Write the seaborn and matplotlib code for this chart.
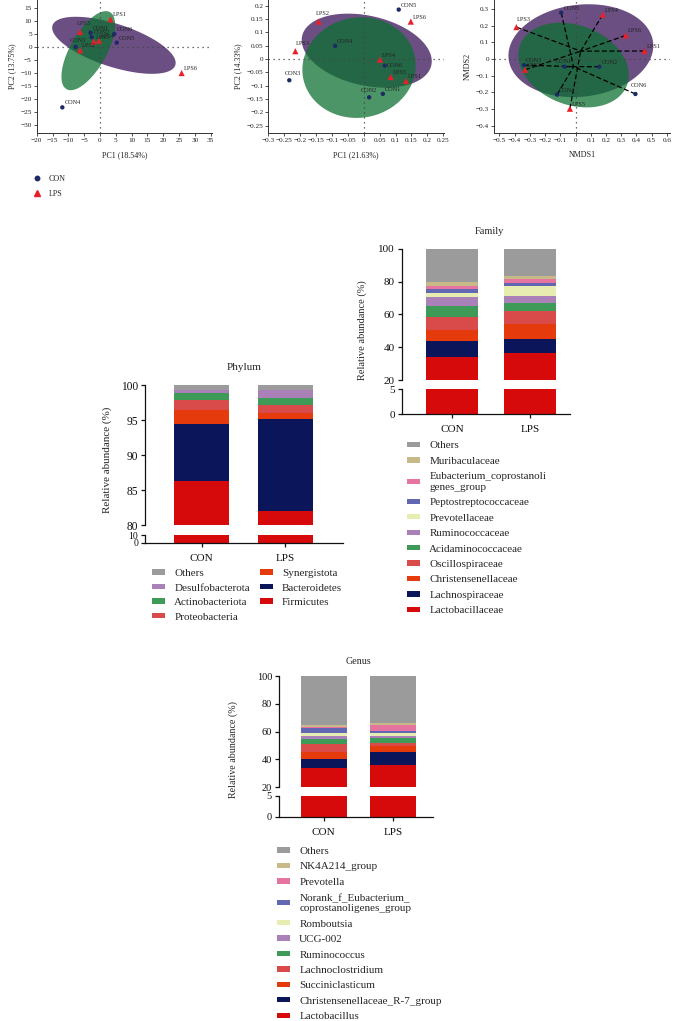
import numpy as np
import pandas as pd
import matplotlib
matplotlib.use("Agg")
import matplotlib.pyplot as plt
import seaborn as sns
from matplotlib.patches import Patch
from matplotlib.lines import Line2D

sns.set_theme(style="ticks")
plt.rcParams['font.family'] = ['Liberation Serif', 'DejaVu Serif']
plt.rcParams['axes.unicode_minus'] = True

# ------------------------------------------------------------------ data
samples = ["CON1", "CON2", "CON3", "CON4", "CON5", "CON6",
           "LPS1", "LPS2", "LPS3", "LPS4", "LPS5", "LPS6"]
groups = ["CON"] * 6 + ["LPS"] * 6

# PCA (panel 1)
pca1_x = [-3.0, -2.6, -7.7, -11.9, 5.3, 4.5, 3.3, -6.3, -6.3, -0.3, -2.0, 25.8]
pca1_y = [5.4, 3.7, 0.0, -23.1, 1.6, 4.9, 10.5, -1.3, 5.7, 2.4, 2.0, -10.0]
# PCA (panel 2)
pca2_x = [0.060, 0.017, -0.234, -0.090, 0.110, 0.066, 0.133, -0.142, -0.215, 0.051, 0.085, 0.148]
pca2_y = [-0.131, -0.144, -0.080, 0.049, 0.185, -0.025, -0.083, 0.140, 0.029, -0.003, -0.068, 0.140]
# NMDS
nmds_x = [-0.072, 0.156, -0.338, -0.121, -0.094, 0.393, 0.452, -0.331, -0.388, 0.178, -0.037, 0.329]
nmds_y = [-0.046, -0.046, -0.036, -0.213, 0.277, -0.209, 0.048, -0.064, 0.191, 0.265, -0.297, 0.141]

# group ellipses: centre, half-axis u, half-axis v (data units)
pca1_ell = {"LPS": [(4.4, 0.6), (19.4, -7.6), (-2.1, -7.8)],
            "CON": [(-3.7, -1.45), (6.85, 14.7), (5.0, -3.4)]}
pca2_ell = {"LPS": [(0.0094, 0.031), (0.203, -0.055), (-0.024, -0.1275)],
            "CON": [(-0.0147, -0.0325), (0.176, 0.0375), (0.0275, -0.185)]}
nmds_ell = {"LPS": [(0.035, 0.05), (0.474, 0.05), (0.035, -0.273)],
            "CON": [(-0.013, -0.036), (0.351, -0.12), (-0.092, -0.223)]}

bar_groups = ["CON", "LPS"]

phylum_taxa = ["Firmicutes", "Bacteroidetes", "Synergistota", "Proteobacteria",
               "Actinobacteriota", "Desulfobacterota", "Others"]
phylum_con = [86.3, 8.1, 2.1, 1.4, 1.0, 0.4, 0.7]
phylum_lps = [82.0, 13.1, 0.9, 1.1, 1.05, 1.2, 0.65]

family_taxa = ["Lactobacillaceae", "Lachnospiraceae", "Christensenellaceae", "Oscillospiraceae",
               "Acidaminococcaceae", "Ruminococcaceae", "Prevotellaceae", "Peptostreptococcaceae",
               "Eubacterium_coprostanoli\ngenes_group", "Muribaculaceae", "Others"]
family_con = [33.8, 10.0, 6.5, 8.1, 6.5, 5.7, 2.4, 2.2, 2.3, 2.0, 20.5]
family_lps = [36.6, 8.6, 9.1, 7.5, 5.3, 4.1, 6.3, 1.8, 2.0, 2.1, 16.6]

genus_taxa = ["Lactobacillus", "Christensenellaceae_R-7_group", "Succiniclasticum",
              "Lachnoclostridium", "Ruminococcus", "UCG-002", "Romboutsia",
              "Norank_f_Eubacterium_\ncoprostanoligenes_group", "Prevotella",
              "NK4A214_group", "Others"]
genus_con = [33.7, 6.4, 5.3, 6.0, 3.3, 2.4, 1.9, 3.4, 0.8, 1.6, 35.2]
genus_lps = [36.3, 9.3, 4.3, 2.0, 3.3, 1.9, 1.7, 1.9, 3.9, 1.6, 33.8]

# ------------------------------------------------------------------ style
NAVY_PT = "#1c2a66"
RED_PT = "#e8202a"
PURPLE = "#6b4e82"
GREEN = "#0c7032"
GREY = "#9b9b9b"
C_RED = "#d60a0a"
C_NAVY = "#0b155a"
C_ORANGE = "#e53a0c"
C_SALMON = "#d94b4b"
C_GREEN = "#3d9a57"
C_LPURPLE = "#aa80b9"
C_YELLOW = "#e7ecb0"
C_BLUE = "#6167b2"
C_PINK = "#e674a1"
C_TAN = "#c8b988"

phylum_colors = [C_RED, C_NAVY, C_ORANGE, C_SALMON, C_GREEN, C_LPURPLE, GREY]
tax_colors = [C_RED, C_NAVY, C_ORANGE, C_SALMON, C_GREEN, C_LPURPLE,
              C_YELLOW, C_BLUE, C_PINK, C_TAN, GREY]

W, H = 673, 1021
fig = plt.figure(figsize=(W / 100, H / 100), dpi=100)


def fig_axes(left, top, right, bottom):
    return fig.add_axes([left / W, 1 - bottom / H, (right - left) / W, (bottom - top) / H])


def fmt(v):
    v = round(v, 3)
    if abs(v) < 1e-9:
        return "0"
    s = f"{v:g}"
    return s.replace("-", "\u2212")


def ordination(ax, xs, ys, ells, xlim, ylim, xticks, yticks, xlabel, ylabel,
               offsets, centroid_lines=False):
    df = pd.DataFrame({"sample": samples, "group": groups, "x": xs, "y": ys})
    t = np.linspace(0, 2 * np.pi, 300)
    for g, col, alpha in (("LPS", PURPLE, 1.0), ("CON", GREEN, 0.74)):
        c, u, v = ells[g]
        ex = c[0] + u[0] * np.cos(t) + v[0] * np.sin(t)
        ey = c[1] + u[1] * np.cos(t) + v[1] * np.sin(t)
        ax.fill(ex, ey, color=col, alpha=alpha, lw=0, zorder=1)
    ax.axhline(0, ls=(0, (1, 3)), color="#444444", lw=0.9, zorder=2)
    ax.axvline(0, ls=(0, (1, 3)), color="#444444", lw=0.9, zorder=2)
    if centroid_lines:
        for g in ("CON", "LPS"):
            sub = df[df.group == g]
            cx, cy = sub.x.mean(), sub.y.mean()
            for _, r in sub.iterrows():
                ax.plot([r.x, cx], [r.y, cy], ls=(0, (4, 2)), color="black", lw=0.9, zorder=3)
    sns.scatterplot(data=df[df.group == "CON"], x="x", y="y", marker="o", color=NAVY_PT,
                    s=10, edgecolor="none", ax=ax, zorder=5, legend=False)
    sns.scatterplot(data=df[df.group == "LPS"], x="x", y="y", marker="^", color=RED_PT,
                    s=20, edgecolor="none", ax=ax, zorder=5, legend=False)
    for _, r in df.iterrows():
        dx, dy = offsets.get(r["sample"], (1.5, 1.5))
        ax.annotate(r["sample"], (r.x, r.y), xytext=(dx, dy), textcoords="offset points",
                    fontsize=4.5, ha="left", va="bottom", color="#222222", zorder=6)
    ax.set_xlim(*xlim)
    ax.set_ylim(*ylim)
    ax.set_xticks(xticks)
    ax.set_xticklabels([fmt(v) for v in xticks])
    ax.set_yticks(yticks)
    ax.set_yticklabels([fmt(v) for v in yticks])
    ax.tick_params(labelsize=5.2, length=2, width=0.6, pad=1.5, colors="#333333", labelcolor="#222222")
    for s in ("top", "right"):
        ax.spines[s].set_visible(False)
    for s in ("left", "bottom"):
        ax.spines[s].set_linewidth(0.7)
        ax.spines[s].set_color("#333333")
    ax.set_xlabel(xlabel, fontsize=5.8, labelpad=6, color="#222222")
    ax.set_ylabel(ylabel, fontsize=5.8, labelpad=3, color="#222222")


ax1 = fig_axes(36.7, 0, 212.3, 133.3)
ordination(ax1, pca1_x, pca1_y, pca1_ell, (-20, 35.5), (-33, 17.9),
           np.arange(-20, 36, 5), np.arange(-30, 16, 5), "PC1 (18.54%)", "PC2 (13.75%)",
           {"CON3": (-4, 2.5), "LPS3": (-2, 4)})

ax2 = fig_axes(268.3, 0, 443.9, 133.3)
ordination(ax2, pca2_x, pca2_y, pca2_ell, (-0.3, 0.252), (-0.279, 0.221),
           np.arange(-0.3, 0.26, 0.05), np.arange(-0.25, 0.21, 0.05), "PC1 (21.63%)", "PC2 (14.33%)",
           {"CON2": (-6, 3), "CON3": (-3, 3), "LPS2": (-2, 4), "LPS3": (0, 4), "CON6": (1.5, -2)})

ax3 = fig_axes(494, 0, 670, 133.3)
ordination(ax3, nmds_x, nmds_y, nmds_ell, (-0.535, 0.62), (-0.444, 0.353),
           np.arange(-0.5, 0.61, 0.1), np.arange(-0.4, 0.31, 0.1), "NMDS1", "NMDS2",
           {"CON1": (-6, 2), "LPS3": (0, 4), "CON6": (-3, 4)}, centroid_lines=True)

# group legend
fig.legend(handles=[Line2D([], [], marker="o", ls="", color=NAVY_PT, markersize=3.2, label="CON"),
                    Line2D([], [], marker="^", ls="", color=RED_PT, markersize=4, label="LPS")],
           loc="upper left", bbox_to_anchor=(33 / W, 1 - 175 / H), frameon=False, fontsize=5.8,
           handlelength=1.0, handletextpad=0.9, labelspacing=0.9, borderpad=0, borderaxespad=0)


# ------------------------------------------------------------------ stacked bars
def stacked(ax_top, ax_bot, con, lps, colors, width, xlim, ylim_top, ylim_bot,
            yticks_top, yticks_bot, ysize=8.3, bot_ysize=None):
    cc, cl = np.cumsum(con), np.cumsum(lps)
    for i in reversed(range(len(con))):
        d = pd.DataFrame({"group": bar_groups, "value": [cc[i], cl[i]]})
        for ax in (ax_top, ax_bot):
            sns.barplot(data=d, x="group", y="value", color=colors[i], saturation=1,
                        width=width, linewidth=0, errorbar=None, ax=ax)
    for ax in (ax_top, ax_bot):
        ax.set_xlim(*xlim)
        ax.set_xlabel("")
        ax.set_ylabel("")
        for s in ("top", "right"):
            ax.spines[s].set_visible(False)
        for s in ("left", "bottom"):
            ax.spines[s].set_linewidth(0.9)
            ax.spines[s].set_color("#111111")
        ax.tick_params(labelsize=ysize, length=3, width=0.9, pad=2, colors="#111111")
    ax_top.set_ylim(*ylim_top)
    ax_bot.set_ylim(*ylim_bot)
    ax_top.set_yticks(yticks_top)
    ax_bot.set_yticks(yticks_bot)
    if bot_ysize:
        ax_bot.tick_params(axis="y", labelsize=bot_ysize)
    ax_top.spines["bottom"].set_visible(False)
    ax_top.tick_params(axis="x", bottom=False, labelbottom=False)
    ax_bot.set_xticks([0, 1])
    ax_bot.set_xticklabels(bar_groups)
    ax_bot.tick_params(axis="x", pad=5, labelsize=8)


def legend_patches(taxa, colors):
    return [Patch(facecolor=c, edgecolor="none", label=t) for t, c in zip(taxa, colors)]


LEG = dict(frameon=False, fontsize=8, handlelength=1.2, handleheight=0.35, handletextpad=0.8,
           labelspacing=0.58, borderpad=0, borderaxespad=0, loc="upper left")

# Phylum
pt = fig_axes(145, 385, 343, 525)
pb = fig_axes(145, 535, 343, 543)
stacked(pt, pb, phylum_con, phylum_lps, phylum_colors, 0.655, (-0.673, 1.685),
        (80, 100), (0, 10), [80, 85, 90, 95, 100], [0, 10], ysize=8.3, bot_ysize=7)
fig.text(244 / W, 1 - 367 / H, "Phylum", ha="center", va="center", fontsize=8)
fig.text(107 / W, 1 - 460 / H, "Relative abundance (%)", rotation=90, ha="center", va="center", fontsize=8)
fig.legend(handles=legend_patches(phylum_taxa, phylum_colors)[::-1],
           bbox_to_anchor=(152 / W, 1 - 569 / H), ncol=2, columnspacing=0.9,
           **{**LEG, "labelspacing": 0.5})

# Family
ft = fig_axes(402, 248.7, 570, 380)
fb = fig_axes(402, 389.3, 570, 414.3)
stacked(ft, fb, family_con, family_lps, tax_colors, 0.667, (-0.641, 1.515),
        (20, 100), (0, 5), [20, 40, 60, 80, 100], [0, 5], ysize=8)
fig.text(489 / W, 1 - 232 / H, "Family", ha="center", va="center", fontsize=7.5)
fig.text(362 / W, 1 - 330 / H, "Relative abundance (%)", rotation=90, ha="center", va="center", fontsize=7.5)
fig.legend(handles=legend_patches(family_taxa, tax_colors)[::-1],
           bbox_to_anchor=(407 / W, 1 - 441.5 / H), **LEG)

# Genus
gt = fig_axes(279, 676, 433, 787.3)
gb = fig_axes(279, 795.7, 433, 816.7)
stacked(gt, gb, genus_con, genus_lps, tax_colors, 0.664, (-0.645, 1.577),
        (20, 100), (0, 5), [20, 40, 60, 80, 100], [0, 5], ysize=7.5)
fig.text(358.5 / W, 1 - 661.7 / H, "Genus", ha="center", va="center", fontsize=7.2)
fig.text(233 / W, 1 - 750 / H, "Relative abundance (%)", rotation=90, ha="center", va="center", fontsize=7.2)
fig.legend(handles=legend_patches(genus_taxa, tax_colors)[::-1],
           bbox_to_anchor=(277 / W, 1 - 847 / H), **LEG)

fig.savefig("out.png", dpi=100)
